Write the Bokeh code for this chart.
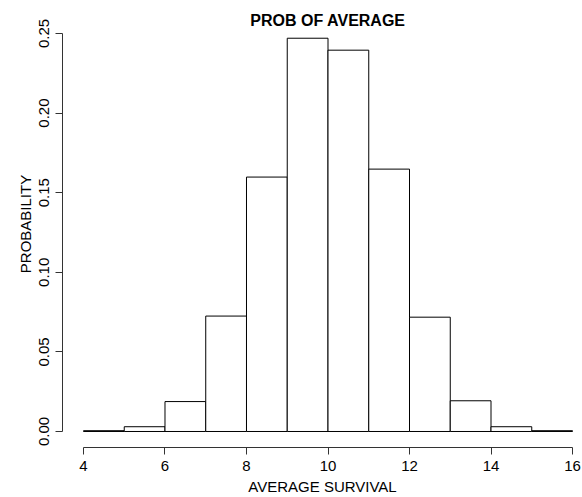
from bokeh.plotting import figure
from bokeh.models import FixedTicker, Label, Range1d, CustomJSTickFormatter
from bokeh.embed import file_html
from bokeh.resources import INLINE

# Data
bin_left = [4, 5, 6, 7, 8, 9, 10, 11, 12, 13, 14, 15]
bin_right = [5, 6, 7, 8, 9, 10, 11, 12, 13, 14, 15, 16]
probability = [0.0005, 0.003, 0.0188, 0.0725, 0.1598, 0.2470, 0.2395, 0.1648, 0.0718, 0.0193, 0.003, 0.0005]
x_ticks = [4, 6, 8, 10, 12, 14, 16]
y_ticks = [0.0, 0.05, 0.10, 0.15, 0.20, 0.25]

FONT = "Liberation Sans"

p = figure(width=582, height=497, output_backend="svg", toolbar_location=None,
           x_range=Range1d(3.485, 16.245), y_range=Range1d(-0.01005, 0.2707),
           min_border_left=62, min_border_right=0, min_border_top=0, min_border_bottom=50)
p.outline_line_color = None
p.xgrid.visible = False
p.ygrid.visible = False
p.background_fill_color = "white"
p.border_fill_color = "white"

p.quad(left=bin_left, right=bin_right, bottom=0, top=probability,
       fill_color="white", line_color="black", line_width=1)

for ax in (p.xaxis[0], p.yaxis[0]):
    ax.axis_line_color = "#333333"
    ax.major_tick_line_color = "#333333"
    ax.minor_tick_line_color = None
    ax.major_tick_out = 7
    ax.major_tick_in = 0
    ax.major_label_text_font = FONT
    ax.major_label_text_font_size = "15px"
    ax.major_label_text_color = "black"
    ax.axis_label_text_font = FONT
    ax.axis_label_text_font_size = "15px"
    ax.axis_label_text_font_style = "normal"
    ax.axis_label_text_color = "black"

p.xaxis.ticker = FixedTicker(ticks=x_ticks)
p.xaxis.bounds = (x_ticks[0], x_ticks[-1])
p.xaxis.axis_label = "AVERAGE SURVIVAL"
p.xaxis.major_label_standoff = 6
p.xaxis.axis_label_standoff = 4

p.yaxis.ticker = FixedTicker(ticks=y_ticks)
p.yaxis.bounds = (y_ticks[0], y_ticks[-1])
p.yaxis.formatter = CustomJSTickFormatter(code="return tick.toFixed(2);")
p.yaxis.major_label_orientation = "vertical"
p.yaxis.axis_label = "PROBABILITY"
p.yaxis.major_label_standoff = 6
p.yaxis.axis_label_standoff = 3

p.add_layout(Label(x=10, y=0.2582, text="PROB OF AVERAGE", text_align="center",
                   text_baseline="middle", text_font=FONT, text_font_size="16px",
                   text_font_style="bold", text_color="black"))

open("out.html", "w").write(file_html(p, INLINE))
